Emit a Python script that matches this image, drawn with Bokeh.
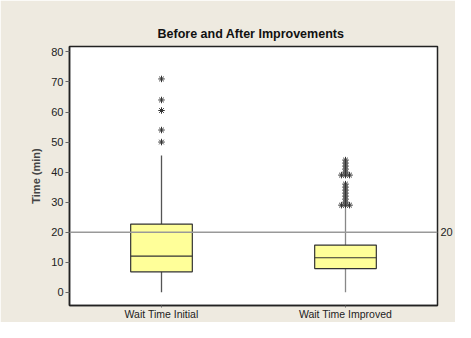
from bokeh.plotting import figure
from bokeh.models import Range1d, FixedTicker, LinearAxis, Span
from bokeh.embed import file_html
from bokeh.resources import INLINE

# ---- data ----
categories = ["Wait Time Initial", "Wait Time Improved"]
q1 = [6.8, 7.9]
median = [12.0, 11.5]
q3 = [22.7, 15.7]
whisker_low = [0.0, 0.0]
whisker_high = [45.5, 28.0]
initial_outliers = [71, 64, 60.5, 54, 50]
improved_outliers = [44, 43, 42, 41, 40, 39, 39, 39, 36, 35, 34, 33, 32, 31, 30, 29, 29, 29]
reference_value = 20
y_ticks = [0, 10, 20, 30, 40, 50, 60, 70, 80]

BEIGE = "#EEEAE0"
BOX_FILL = "#FFFF99"
DARK = "#222222"

p = figure(width=455, height=322, output_backend="svg", toolbar_location=None,
           x_range=Range1d(0.5, 2.5), y_range=Range1d(-4.4, 81.8),
           min_border_left=69, min_border_top=46, min_border_bottom=12, min_border_right=4,
           background_fill_color="white", border_fill_color=BEIGE,
           outline_line_color=DARK, outline_line_width=1.5)
p.grid.visible = False

# title
p.title.text = "Before and After Improvements"
p.title.text_font = "Liberation Sans"
p.title.text_font_size = "12.5px"
p.title.text_font_style = "bold"
p.title.align = "left"
p.title.offset = 88
p.title.standoff = 12
p.title.text_color = "#111111"

# reference line
p.add_layout(Span(location=reference_value, dimension="width", line_color="#999999", line_width=1.5))

xs = [i + 1 for i in range(len(categories))]
# whiskers
p.segment(x0=xs, y0=whisker_low, x1=xs, y1=q1, line_color=["#555555", "#888888"], line_width=1.3)
p.segment(x0=xs, y0=q3, x1=xs, y1=whisker_high, line_color=["#555555", "#888888"], line_width=1.3)
# boxes
bw = 0.335
p.vbar(x=xs, width=bw, bottom=q1, top=q3, fill_color=BOX_FILL, line_color="#333333", line_width=1.2)
p.segment(x0=[x - bw / 2 for x in xs], y0=median, x1=[x + bw / 2 for x in xs], y1=median,
          line_color="#333333", line_width=1.2)

# outliers (duplicates dodged side by side)
def dodge(vals, center, step=0.022):
    out_x = []
    counts = {v: vals.count(v) for v in vals}
    seen = {}
    for v in vals:
        n = counts[v]
        k = seen.get(v, 0)
        seen[v] = k + 1
        out_x.append(center + (k - (n - 1) / 2) * step)
    return out_x

p.scatter(dodge(initial_outliers, 1), initial_outliers, marker="asterisk", size=6.5,
          line_color="#333333", line_width=1)
p.scatter(dodge(improved_outliers, 2), improved_outliers, marker="asterisk", size=6.5,
          line_color="#333333", line_width=1)

# axes
FONT = "Liberation Sans"
xa = p.xaxis[0]
xa.ticker = FixedTicker(ticks=xs)
xa.major_label_overrides = {x: c for x, c in zip(xs, categories)}
xa.major_label_text_font = FONT
xa.major_label_text_font_size = "10.5px"
xa.major_label_text_color = "#222222"
xa.major_tick_out = 2
xa.major_tick_in = 0
xa.minor_tick_line_color = None
xa.major_label_standoff = 0
xa.axis_line_color = DARK
xa.axis_line_width = 1.5
xa.major_tick_line_color = "#666666"

ya = p.yaxis[0]
ya.ticker = FixedTicker(ticks=y_ticks)
ya.axis_label = "Time (min)"
ya.axis_label_text_font = FONT
ya.axis_label_text_font_size = "11px"
ya.axis_label_text_font_style = "bold"
ya.axis_label_standoff = 6
ya.major_label_text_font = FONT
ya.major_label_text_font_size = "11px"
ya.major_label_text_color = "#222222"
ya.major_tick_out = 4
ya.major_tick_in = 0
ya.minor_tick_line_color = None
ya.major_label_standoff = 2
ya.axis_line_color = DARK
ya.axis_line_width = 1.5
ya.major_tick_line_color = "#666666"

ra = LinearAxis(ticker=FixedTicker(ticks=[reference_value]))
ra.axis_line_color = None
ra.major_tick_line_color = None
ra.minor_tick_line_color = None
ra.major_tick_out = 0
ra.major_tick_in = 0
ra.major_label_standoff = 3
ra.major_label_text_font = FONT
ra.major_label_text_font_size = "11px"
ra.major_label_text_color = "#222222"
p.add_layout(ra, "right")

open("out.html", "w").write(file_html(p, INLINE))
